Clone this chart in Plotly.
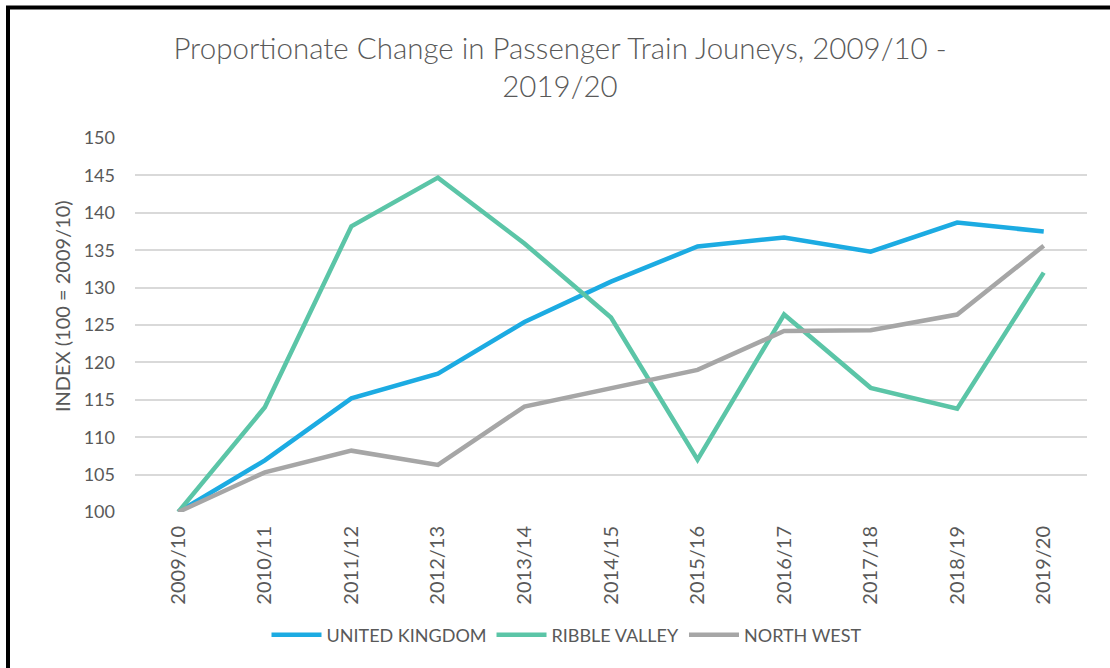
import plotly.graph_objects as go

categories = ["2009/10", "2010/11", "2011/12", "2012/13", "2013/14", "2014/15",
              "2015/16", "2016/17", "2017/18", "2018/19", "2019/20"]
united_kingdom = [100, 106.9, 115.2, 118.5, 125.4, 130.8, 135.5, 136.7, 134.8, 138.7, 137.5]
ribble_valley = [100, 114.0, 138.2, 144.7, 135.9, 126.0, 107.0, 126.4, 116.6, 113.8, 132.0]
north_west = [100, 105.3, 108.2, 106.3, 114.1, 116.5, 119.0, 124.2, 124.3, 126.4, 135.6]
y_ticks = [100, 105, 110, 115, 120, 125, 130, 135, 140, 145, 150]

W, H = 1110, 668
L, R, T, B = 135, 23, 138, 156
pw, ph = W - L - R, H - T - B

FONT = "Lato"
GREY = "#595959"

fig = go.Figure()
series = [("UNITED KINGDOM", united_kingdom, "#1CABE2"),
          ("RIBBLE VALLEY", ribble_valley, "#5BC5A7"),
          ("NORTH WEST", north_west, "#A6A6A6")]
for name, vals, col in series:
    fig.add_trace(go.Scatter(x=categories, y=vals, name=name, mode="lines",
                             line=dict(color=col, width=4.5)))

def px_x(px):
    return (px - L) / pw

def px_y(py):
    return (H - B - py) / ph

fig.update_layout(
    width=W, height=H,
    margin=dict(l=L, r=R, t=T, b=B),
    paper_bgcolor="white", plot_bgcolor="white",
    font=dict(family=FONT, color=GREY),
    title=dict(text="Proportionate Change in Passenger Train Jouneys, 2009/10 -<br>2019/20",
               x=560 / W, xref="container", xanchor="center",
               y=1 - 59 / H, yref="container", yanchor="middle",
               font=dict(family=FONT, size=29.5, color=GREY, weight=300)),
    xaxis=dict(type="category", range=[-0.5, len(categories) - 0.5],
               tickangle=-90, showgrid=False, zeroline=False,
               showline=False, ticks="", ticklabelstandoff=9,
               tickfont=dict(family=FONT, size=20, color=GREY)),
    yaxis=dict(range=[100, 150], tickvals=y_ticks, showgrid=True,
               gridcolor="#D9D9D9", gridwidth=1.5, zeroline=False,
               showline=False, ticks="", ticklabelstandoff=19,
               tickfont=dict(family=FONT, size=18, color=GREY)),
    legend=dict(orientation="h", xref="container", yref="container",
                x=567 / W, xanchor="center", y=1 - 635 / H, yanchor="middle",
                font=dict(family=FONT, size=18, color=GREY),
                itemwidth=50, traceorder="normal"),
    showlegend=True,
)

fig.add_annotation(text="INDEX (100 = 2009/10)", textangle=-90,
                   xref="paper", yref="paper", x=px_x(62), y=px_y(306),
                   xanchor="center", yanchor="middle", showarrow=False,
                   font=dict(family=FONT, size=20, color=GREY))

# outer frame (top and left edges visible in the reference)
fig.add_shape(type="rect", xref="paper", yref="paper",
              x0=px_x(8), y0=px_y(700), x1=px_x(1140), y1=px_y(7.5),
              line=dict(color="black", width=4), layer="above")

fig.write_html("out.html", config={"displayModeBar": False},
               post_script="document.body.style.margin='0px';document.body.style.padding='0px';")
